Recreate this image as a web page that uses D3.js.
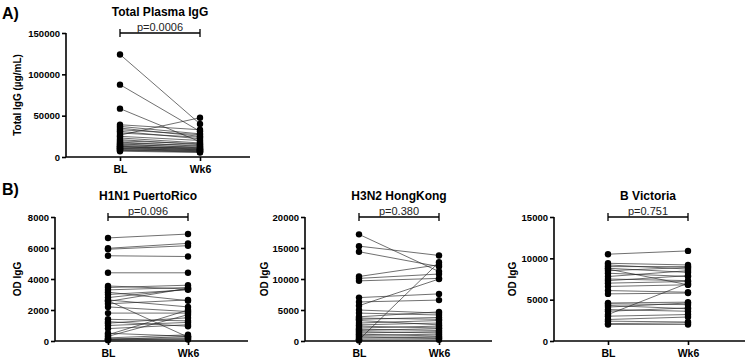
<!DOCTYPE html>
<html><head><meta charset="utf-8">
<script src="https://cdn.jsdelivr.net/npm/d3@7"></script>
<style>body{margin:0;background:#fff}text{font-family:"Liberation Sans",Arial,sans-serif}</style>
</head><body><svg id="c" width="745" height="361"></svg>
<script>
const categories = ["BL", "Wk6"];
const titles = ["Total Plasma IgG", "H1N1 PuertoRico", "H3N2 HongKong", "B Victoria"];
const yLabels = ["Total IgG (\u00b5g/mL)", "OD IgG", "OD IgG", "OD IgG"];
const pValues = ["p=0.0006", "p=0.096", "p=0.380", "p=0.751"];
const ticksA = [0, 50000, 100000, 150000];
const ticksH1 = [0, 2000, 4000, 6000, 8000];
const ticksH3 = [0, 5000, 10000, 15000, 20000];
const ticksBV = [0, 5000, 10000, 15000];
// paired values [BL, Wk6]
const totalIgG = [[124000,40000],[87500,31000],[58500,18500],[39000,33000],[37000,28000],[35000,25000],[33000,27000],[31000,22000],[29000,24000],[26500,47500],[25000,20000],[23000,17000],[21000,15000],[19500,16000],[18000,13000],[17000,14000],[16000,11000],[15000,12000],[14000,10000],[13000,9500],[12500,8500],[12000,11000],[11000,9000],[10500,7500],[10000,8000],[9000,7000],[8500,6500],[8000,6000],[7000,5500]];
const h1n1 = [[6650,6900],[5980,6300],[5920,6150],[5500,5450],[4400,4400],[3550,3350],[3450,3600],[3300,3450],[3150,2600],[3000,3300],[2800,3350],[2650,2200],[2550,3400],[2400,2650],[2600,250],[2200,1900],[1800,1800],[1400,1300],[1250,950],[1150,1500],[1000,1200],[800,1050],[500,300],[400,2000],[300,1700],[200,400],[150,200],[100,100],[80,300],[50,150]];
const h3n2 = [[17200,11200],[15300,13800],[14400,12000],[10400,12300],[10100,10800],[9700,10100],[7000,7600],[6300,6600],[5700,10000],[5000,4500],[4500,4200],[3900,4700],[3700,3500],[3500,3800],[3300,2600],[2900,3300],[2600,2900],[2400,2100],[2100,2400],[1900,1700],[1700,2000],[1500,1300],[1300,1500],[1100,800],[900,1100],[700,500],[500,700],[300,400],[200,12700],[100,200]];
const bvic = [[10500,10900],[9400,9200],[9200,8700],[9000,9000],[8800,8300],[8700,6800],[8500,8900],[8200,7800],[7800,8500],[7500,7300],[7300,7900],[7000,7200],[6600,6800],[6100,5900],[5700,5800],[4600,4700],[4500,4400],[4300,3900],[4100,4600],[3800,3600],[3600,4000],[3200,7000],[3000,3200],[2600,2900],[2400,2300],[2100,2200],[2000,2000]];

const svg = d3.select("#c");
const panels = [
  {data: totalIgG, ticks: ticksA, max: 150000, ax: 66, x0: 120, x1: 200, xEnd: 250, top: 33, bot: 157, ylx: 21, i: 0},
  {data: h1n1, ticks: ticksH1, max: 8000, ax: 55, x0: 108, x1: 188, xEnd: 248, top: 217, bot: 341, ylx: 21, i: 1},
  {data: h3n2, ticks: ticksH3, max: 20000, ax: 305, x0: 359, x1: 439, xEnd: 492, top: 217, bot: 341, ylx: 268, i: 2},
  {data: bvic, ticks: ticksBV, max: 15000, ax: 554, x0: 608, x1: 688, xEnd: 745, top: 217, bot: 341, ylx: 516, i: 3}
];
svg.append("text").attr("x", 2).attr("y", 19).attr("font-size", 16).attr("font-weight", "bold").text("A)");
svg.append("text").attr("x", 2).attr("y", 195).attr("font-size", 16).attr("font-weight", "bold").text("B)");

panels.forEach(p => {
  const y = d3.scaleLinear().domain([0, p.max]).range([p.bot, p.top]);
  const x = d3.scalePoint().domain(categories).range([p.x0, p.x1]);
  const g = svg.append("g");
  const ya = g.append("g").attr("transform", `translate(${p.ax},0)`)
    .call(d3.axisLeft(y).tickValues(p.ticks).tickFormat(d3.format("d")).tickSize(4).tickPadding(2));
  ya.select(".domain").attr("d", `M-0,${p.top}V${p.bot}`);
  const xa = g.append("g").attr("transform", `translate(0,${p.bot})`)
    .call(d3.axisBottom(x).tickSize(4).tickPadding(5));
  xa.select(".domain").attr("d", `M${p.ax},0H${p.xEnd}`);
  [ya, xa].forEach(a => {
    a.selectAll("path,line").attr("stroke", "#000").attr("stroke-width", 1.6);
    a.selectAll("text").attr("font-size", 9.5).attr("font-weight", "bold").attr("fill", "#000")
      .style("font-family", "'Liberation Sans',Arial,sans-serif");
  });
  xa.selectAll("text").attr("font-size", 10.5);
  g.selectAll("line.pair").data(p.data).join("line")
    .attr("x1", x("BL")).attr("x2", x("Wk6"))
    .attr("y1", d => y(d[0])).attr("y2", d => y(d[1]))
    .attr("stroke", "#222").attr("stroke-width", 0.65);
  const pts = [];
  p.data.forEach(d => { pts.push([categories[0], d[0]]); pts.push([categories[1], d[1]]); });
  g.selectAll("circle").data(pts).join("circle")
    .attr("cx", d => x(d[0])).attr("cy", d => y(d[1])).attr("r", 3.2).attr("fill", "#000");
  g.append("text").attr("x", (p.x0 + p.x1) / 2).attr("y", p.top - 17).attr("text-anchor", "middle")
    .attr("font-size", 12).attr("font-weight", "bold").text(titles[p.i]);
  g.append("path").attr("d", `M${p.x0},${p.top - 4}V${p.top + 4}M${p.x0},${p.top}H${p.x1}M${p.x1},${p.top - 4}V${p.top + 4}`)
    .attr("stroke", "#000").attr("stroke-width", 1.3).attr("fill", "none");
  g.append("text").attr("x", (p.x0 + p.x1) / 2).attr("y", p.top - 2).attr("text-anchor", "middle")
    .attr("font-size", 11).attr("fill", "#222").text(pValues[p.i]);
  g.append("text").attr("transform", `translate(${p.ylx},${(p.top + p.bot) / 2}) rotate(-90)`)
    .attr("text-anchor", "middle").attr("font-size", 10).attr("font-weight", "bold").text(yLabels[p.i]);
});
</script></body></html>
